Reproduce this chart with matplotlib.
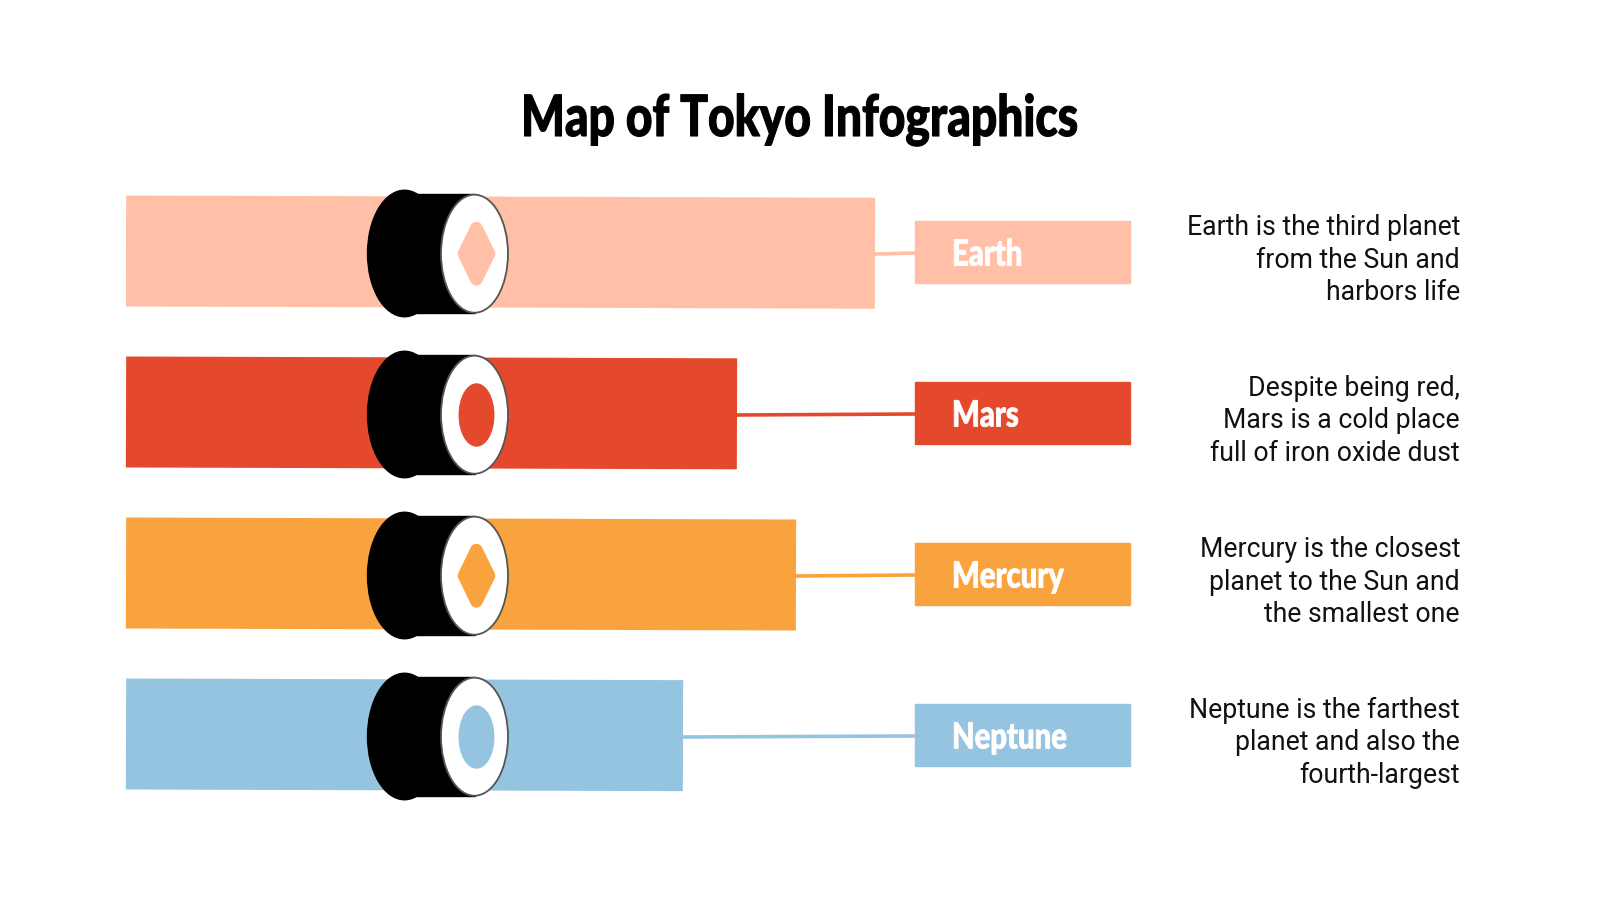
import matplotlib
matplotlib.use("Agg")
import matplotlib.pyplot as plt
from matplotlib.patches import Ellipse, Polygon, Rectangle
from matplotlib.patheffects import AbstractPathEffect
from matplotlib.transforms import Affine2D

TITLE = "Map of Tokyo Infographics"
PLANETS = ["Earth", "Mars", "Mercury", "Neptune"]
BAR_LENGTHS = [749, 611, 670, 557]
COLORS = ["#ffc0a7", "#e5492d", "#f9a33e", "#95c4e0"]
INNER_SHAPES = ["diamond", "ellipse", "diamond", "ellipse"]
DESCRIPTIONS = [
    "Earth is the third planet\nfrom the Sun and\nharbors life",
    "Despite being red,\nMars is a cold place\nfull of iron oxide dust",
    "Mercury is the closest\nplanet to the Sun and\nthe smallest one",
    "Neptune is the farthest\nplanet and also the\nfourth-largest",
]

HEAVY = "Lato"
BAR_LEFT = 126
BAR_HEIGHT = 111
ROW_Y = [253, 414, 575, 736]


class Squeeze(AbstractPathEffect):
    """Narrows and thickens glyphs around a pixel x, no condensed font is installed."""

    def __init__(self, factor, anchor_x, stroke=0.8):
        super().__init__()
        self.factor = factor
        self.anchor_x = anchor_x
        self.stroke = stroke

    def draw_path(self, renderer, gc, tpath, affine, rgbFace=None):
        squeeze = Affine2D().translate(-self.anchor_x, 0).scale(self.factor, 1).translate(self.anchor_x, 0)
        stroked = renderer.new_gc()
        stroked.copy_properties(gc)
        stroked.set_linewidth(self.stroke)
        stroked.set_foreground(rgbFace)
        renderer.draw_path(stroked, tpath, affine + squeeze, rgbFace)
        stroked.restore()


def draw_roll(ax, y, color, shape):
    ax.add_patch(Ellipse((404.5, y + 0.5), 74, 126.5, color="black", zorder=3))
    ax.add_patch(Rectangle((404, y - 59), 71, 119, color="black", zorder=3))
    ax.add_patch(Ellipse((474.5, y + 0.7), 67, 118, facecolor="white",
                         edgecolor="#555555", linewidth=1.3, zorder=4))
    if shape == "diamond":
        ax.add_patch(Polygon(
            [(476.4, y - 25), (489, y + 0.7), (476.4, y + 26.4), (464, y + 0.7)],
            closed=True, facecolor=color, edgecolor=color,
            linewidth=9, joinstyle="round", zorder=5))
    else:
        ax.add_patch(Ellipse((476.5, y + 1), 34.5, 62, color=color, zorder=5))


fig = plt.figure(figsize=(16, 9), dpi=100)
ax = fig.add_axes([0, 0, 1, 1])
ax.set_xlim(0, 1600)
ax.set_ylim(900, 0)
ax.axis("off")

ax.text(800, 120, TITLE, ha="center", va="center", fontsize=41,
        fontweight="black", family=HEAVY, color="black",
        path_effects=[Squeeze(0.81, 800)])

for i, planet in enumerate(PLANETS):
    y = ROW_Y[i]
    color = COLORS[i]
    # the bars lean very slightly in the original
    tilt = Affine2D().rotate_deg_around(BAR_LEFT, y, 0.17) + ax.transData
    ax.barh(y - 2, BAR_LENGTHS[i], height=BAR_HEIGHT, left=BAR_LEFT, color=color,
            transform=tilt, zorder=1)
    bar_end = BAR_LEFT + BAR_LENGTHS[i]
    ax.plot([bar_end, 915], [y + 1, y], color=color, linewidth=2.6,
            solid_capstyle="butt", zorder=1)
    ax.add_patch(Rectangle((915, y - 32.5), 215, 62.5, color=color, zorder=2))
    ax.text(952, y + 2, planet, ha="left", va="center", fontsize=26,
            fontweight="black", family=HEAVY, color="white", zorder=3,
            path_effects=[Squeeze(0.81, 952, 0.6)])
    ax.text(1460, y + 7, DESCRIPTIONS[i], ha="right", va="center", fontsize=19.2,
            family="Roboto", color="#111111", linespacing=1.27)
    draw_roll(ax, y, color, INNER_SHAPES[i])

fig.savefig("out.png", dpi=100)
